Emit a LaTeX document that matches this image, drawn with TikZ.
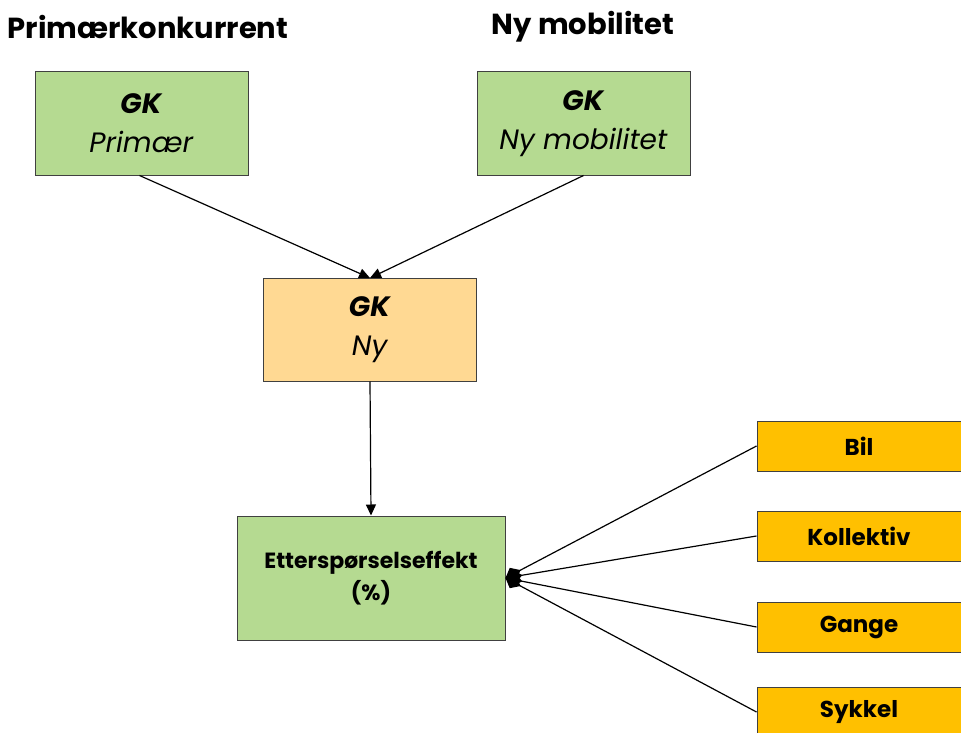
\documentclass[tikz,border=0pt]{standalone}
\usepackage{fontspec}
\setmainfont{Poppins}
\usetikzlibrary{arrows.meta}
\definecolor{lgreen}{HTML}{B5DA91}
\definecolor{lorange}{HTML}{FFD993}
\definecolor{gold}{HTML}{FFC000}
\definecolor{bord}{HTML}{404040}
\begin{document}
\begin{tikzpicture}[x=1pt,y=-1pt,
  box/.style={draw=bord,line width=1pt,inner sep=0pt,align=center},
  gkbox/.style={box,fill=lgreen,minimum width=213pt,minimum height=103pt,font=\fontsize{28}{39}\selectfont},
  modebox/.style={box,fill=gold,minimum width=204pt,minimum height=50pt,font=\bfseries\fontsize{23}{27}\selectfont},
  title/.style={font=\bfseries\fontsize{29}{34}\selectfont,inner sep=0pt},
  conn/.style={line width=1.2pt,-{Triangle[width=10pt,length=11pt]}},
  dconn/.style={line width=1.2pt,-{Diamond[width=14pt,length=17pt]}}]
\useasboundingbox (0,0) rectangle (961,733);
\begin{scope}
\clip (0,0) rectangle (961,733);
\node[title] (t1) at (148,27) {Primærkonkurrent};
\node[title] (t2) at (583,27) {Ny mobilitet};
\node[gkbox] (prim) at (141.5,123.5) {\textbf{\textit{GK}}\\\textit{Primær}};
\node[gkbox] (mob) at (583.5,123.5) {\textbf{\textit{GK}}\\\textit{Ny mobilitet}};
\node[gkbox,fill=lorange] (ny) at (370,329.5) {\textbf{\textit{GK}}\\\textit{Ny}};
\node[gkbox,minimum width=268pt,minimum height=124pt,font=\bfseries\fontsize{22}{32}\selectfont] (eff) at (371,578) {Etterspørselseffekt\\(\%)};
\node[modebox] (bil) at (859,446) {Bil};
\node[modebox] (kol) at (859,536) {Kollektiv};
\node[modebox] (gang) at (859,627) {Gange};
\node[modebox] (syk) at (859,712) {Sykkel};
\coordinate (nyin) at (370,278);
\draw[conn] (prim.south) ++(-2,0) coordinate (ps) -- (nyin);
\draw[conn] (mob.south) coordinate (ms) -- (nyin);
\draw[conn] (ny.south) -- (eff.north);
\draw[dconn] (bil.west) -- (eff.east);
\draw[dconn] (kol.west) -- (eff.east);
\draw[dconn] (gang.west) -- (eff.east);
\draw[dconn] (syk.west) -- (eff.east);
\end{scope}
\end{tikzpicture}
\end{document}
